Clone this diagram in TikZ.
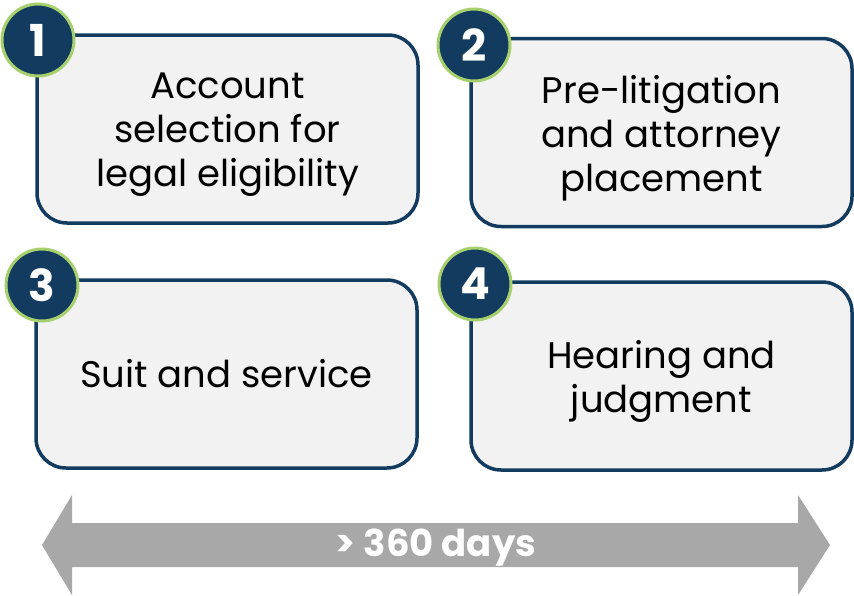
\documentclass[tikz,border=0pt]{standalone}
\usepackage{fontspec}
\setmainfont{Poppins}
\definecolor{navy}{HTML}{133B5F}
\definecolor{boxfill}{HTML}{F2F2F2}
\definecolor{ringgreen}{HTML}{A6D06E}
\definecolor{arrowgray}{HTML}{A9A8A9}
\tikzset{
  stepbox/.style={draw=navy, fill=boxfill, line width=3.5pt, rounded corners=30pt,
    minimum width=381pt, minimum height=188pt, inner sep=0pt},
  steptext/.style={align=center, inner sep=0pt, yshift=-6pt,
    font=\fontsize{37}{44}\selectfont, text=black},
  numcirc/.style={circle, draw=ringgreen, fill=navy, line width=3pt, minimum size=72pt,
    inner sep=0pt, text=white, font=\fontsize{44}{44}\selectfont\bfseries},
  spanarrow/.style={fill=arrowgray, draw=none},
  spanlabel/.style={text=white, yshift=-3pt, font=\fontsize{37}{37}\selectfont\bfseries}
}
\begin{document}
\begin{tikzpicture}[x=1pt,y=-1pt]
\useasboundingbox (0,0) rectangle (854,595);
\node[stepbox] (b1) at (227.5,129) {};
\node[stepbox] (b2) at (661.5,132.5) {};
\node[stepbox] (b3) at (226.5,374) {};
\node[stepbox] (b4) at (661.5,376) {};
\node[steptext] (t1) at (b1.center) {Account\\selection for\\legal eligibility};
\node[steptext] (t2) at (b2.center) {Pre-litigation\\and attorney\\placement};
\node[steptext, yshift=6pt] (t3) at (b3.center) {Suit and service};
\node[steptext, yshift=1pt] (t4) at (b4.center) {Hearing and\\judgment};
\node[numcirc] (n1) at (38,40) {1};
\node[numcirc] (n2) at (474,45) {2};
\node[numcirc] (n3) at (42,285) {3};
\node[numcirc] (n4) at (475,284) {4};
\fill[spanarrow] (42,545) -- (72,495) -- (72,523) -- (798,523) -- (798,495) -- (830,545)
  -- (798,595) -- (798,567) -- (72,567) -- (72,595) -- cycle;
\node[spanlabel] (lbl) at (436,545) {> 360 days};
\end{tikzpicture}
\end{document}
